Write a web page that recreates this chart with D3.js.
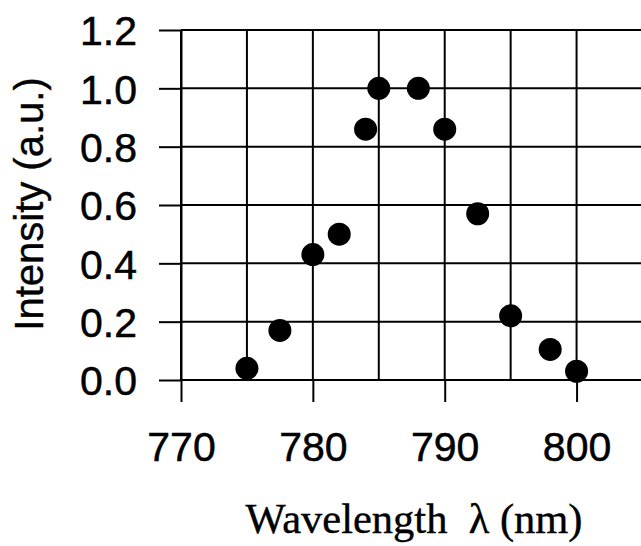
<!DOCTYPE html>
<html>
<head>
<meta charset="utf-8">
<script src="https://cdn.jsdelivr.net/npm/d3@7"></script>
<style>
    body { margin: 0; background: #fff; }
    .tick-label { font-family: "Liberation Sans", Arial, sans-serif; font-size: 41px; fill: #000; stroke: #000; stroke-width: 0.5px; }
    .axis-title-y { font-family: "Liberation Sans", Arial, sans-serif; font-size: 40px; fill: #000; stroke: #000; stroke-width: 0.4px; }
    .axis-title-x { font-family: "Liberation Serif", "Times New Roman", serif; font-size: 42.5px; fill: #000; stroke: #000; stroke-width: 0.4px; }
</style>
</head>
<body>
<div id="chart"></div>
<script>
// Data
const wavelength = [775, 777.5, 780, 782, 784, 785, 788, 790, 792.5, 795, 798, 800];
const intensity  = [0.04, 0.17, 0.43, 0.50, 0.86, 1.00, 1.00, 0.86, 0.57, 0.22, 0.105, 0.03];

const xTickLabels = [770, 780, 790, 800];
const xGridMinor  = [775, 785, 795];
const yTickLabels = [0.0, 0.2, 0.4, 0.6, 0.8, 1.0, 1.2];

const width = 641, height = 546;

const svg = d3.select("#chart")
    .append("svg")
    .attr("width", width)
    .attr("height", height);

// Scales: plot runs off the right edge of the picture
const xScale = d3.scaleLinear()
    .domain([770, 805])
    .range([181, 642.5]);

const yScale = d3.scaleLinear()
    .domain([0, 1.2])
    .range([380, 30]);

const grid = svg.append("g")
    .attr("stroke", "#000")
    .attr("stroke-width", 2);

// Horizontal grid lines
grid.selectAll("line.h")
    .data(yTickLabels)
    .join("line")
    .attr("class", "h")
    .attr("x1", xScale(770))
    .attr("x2", xScale(805))
    .attr("y1", d => yScale(d))
    .attr("y2", d => yScale(d));

// Vertical grid lines (major + minor)
grid.selectAll("line.v")
    .data(xTickLabels.concat(xGridMinor))
    .join("line")
    .attr("class", "v")
    .attr("x1", d => xScale(d))
    .attr("x2", d => xScale(d))
    .attr("y1", yScale(1.2))
    .attr("y2", yScale(0));

// Left axis: ticks stick out to the left, labels in sans-serif
const leftAxis = d3.axisLeft(yScale)
    .tickValues(yTickLabels)
    .tickFormat(d3.format(".1f"))
    .tickSizeInner(22)
    .tickSizeOuter(0)
    .tickPadding(22);

const gy = svg.append("g")
    .attr("transform", `translate(${xScale(770)},0)`)
    .call(leftAxis);
gy.select(".domain").attr("stroke", "#000").attr("stroke-width", 2);
gy.selectAll(".tick line").attr("stroke", "#000").attr("stroke-width", 2);
gy.selectAll(".tick text")
    .attr("class", "tick-label")
    .attr("dy", "0.36em");

// Bottom axis: major ticks hang below the frame
const bottomAxis = d3.axisBottom(xScale)
    .tickValues(xTickLabels)
    .tickFormat(d3.format("d"))
    .tickSizeInner(22)
    .tickSizeOuter(0)
    .tickPadding(30);

const gx = svg.append("g")
    .attr("transform", `translate(0,${yScale(0)})`)
    .call(bottomAxis);
gx.select(".domain").remove();
gx.selectAll(".tick line").attr("stroke", "#000").attr("stroke-width", 2);
gx.selectAll(".tick text").attr("class", "tick-label");

// Data points
svg.append("g")
    .selectAll("circle")
    .data(wavelength.map((w, i) => ({ w, v: intensity[i] })))
    .join("circle")
    .attr("cx", d => xScale(d.w))
    .attr("cy", d => yScale(d.v))
    .attr("r", 11.5)
    .attr("fill", "#000");

// Axis titles
svg.append("text")
    .attr("class", "axis-title-y")
    .attr("text-anchor", "middle")
    .attr("transform", "translate(43,204) rotate(-90)")
    .text("Intensity (a.u.)");

svg.append("text")
    .attr("class", "axis-title-x")
    .attr("text-anchor", "middle")
    .attr("x", 414)
    .attr("y", 533)
    .style("white-space", "pre")
    .text("Wavelength  \u03bb (nm)");
</script>
</body>
</html>
